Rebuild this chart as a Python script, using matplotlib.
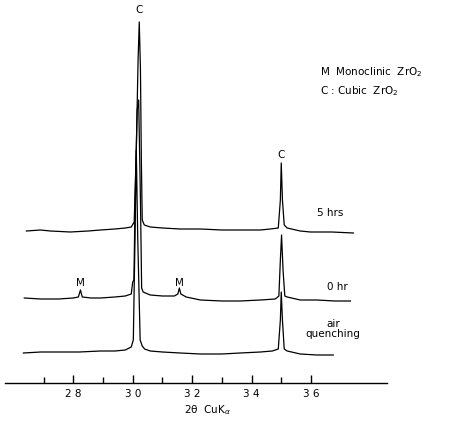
import numpy as np
import matplotlib
matplotlib.use("Agg")
import matplotlib.pyplot as plt

# XRD scans of ZrO2 (2theta, CuKa), intensity in arbitrary units above each baseline
tt_5h = [26.42, 26.89, 27.23, 27.90, 28.5, 28.91, 29.4, 29.75, 29.95, 30.05, 30.12, 30.18,
         30.22, 30.26, 30.29, 30.32, 30.39, 30.59, 31.0, 31.6, 32.28, 33.0, 33.62, 34.3,
         34.63, 34.90, 34.97, 35.00, 35.04, 35.10, 35.20, 35.64, 35.98, 36.7, 37.43]
int_5h = [1, 2, 1, 0, 1, 2, 3, 4, 5, 10, 82, 172, 210, 162, 72, 12, 7, 5, 4, 3, 3, 2, 2, 2,
          3, 4, 32, 69, 32, 7, 4, 1, 0, 0, -1]

tt_0h = [26.35, 26.9, 27.5, 28.0, 28.17, 28.24, 28.30, 28.6, 28.91, 29.4, 29.75, 29.95, 30.0,
         30.04, 30.08, 30.15, 30.2, 30.26, 30.30, 30.35, 30.59, 31.0, 31.4, 31.52, 31.57,
         31.62, 31.8, 32.28, 33.0, 33.62, 34.3, 34.80, 34.92, 34.97, 35.01, 35.06, 35.12,
         35.20, 35.64, 36.2, 36.8, 37.33]
int_0h = [2, 1, 1, 2, 3, 10, 3, 2, 2, 3, 4, 6, 18, 20, 100, 190, 200, 100, 12, 8, 5, 4, 4, 6,
          12, 6, 3, 0, -1, -1, 0, 1, 4, 40, 65, 30, 4, 3, 0, 0, -1, -1]

tt_aq = [26.32, 26.9, 27.5, 28.2, 28.91, 29.4, 29.75, 29.95, 30.02, 30.07, 30.12, 30.17, 30.25,
         30.32, 30.4, 30.59, 31.0, 31.6, 32.28, 33.0, 33.62, 34.3, 34.7, 34.9, 34.97, 35.00,
         35.04, 35.10, 35.20, 35.64, 36.2, 36.75]
int_aq = [0, 1, 1, 1, 2, 2, 3, 6, 13, 103, 203, 113, 13, 7, 4, 2, 1, 0, -1, -1, 0, 1, 2, 4,
          33, 61, 33, 4, 2, -1, -2, -2]

offsets = [151, 83, 30]
scan_names = ["5 hrs", "0 hr", "air\nquenching"]

fig = plt.figure(figsize=(4.56, 4.23), dpi=100)
ax = fig.add_axes([5 / 456, 40 / 423, 382 / 456, 383 / 423])
ax.set_xlim(25.7, 38.56)
ax.set_ylim(0, 383)

for tt, inten, off in zip([tt_5h, tt_0h, tt_aq], [int_5h, int_0h, int_aq], offsets):
    ax.plot(tt, np.array(inten) + off, color="black", lw=0.9)

for s in ("top", "left", "right"):
    ax.spines[s].set_visible(False)
ax.spines["bottom"].set_linewidth(1.0)
ax.set_yticks([])
ax.set_xticks([28, 30, 32, 34, 36])
ax.set_xticklabels(["2 8", "3 0", "3 2", "3 4", "3 6"])
ax.set_xticks([27, 29, 31, 33, 35], minor=True)
ax.tick_params(axis="x", which="major", direction="in", length=6, width=1, labelsize=7.5, pad=4)
ax.tick_params(axis="x", which="minor", direction="in", length=4, width=1)

txt = dict(fontsize=7.5, color="black", ha="center", va="center")
ax.text(36.65, 170, scan_names[0], **txt)
ax.text(36.89, 96, scan_names[1], **txt)
ax.text(36.75, 54, scan_names[2], linespacing=1.05, **txt)
ax.text(30.22, 373, "C", **txt)
ax.text(35.0, 228, "C", **txt)
ax.text(28.24, 100, "M", **txt)
ax.text(31.57, 100, "M", **txt)

fig.text(320 / 456, 1 - 72 / 423, "M  Monoclinic  ZrO$_2$", fontsize=7.5, va="center")
fig.text(320 / 456, 1 - 91 / 423, "C : Cubic  ZrO$_2$", fontsize=7.5, va="center")
fig.text(207 / 456, 1 - 410 / 423, "2θ  CuK$_{\\alpha}$", fontsize=7.5, ha="center", va="center")

fig.savefig("out.png", dpi=100)
